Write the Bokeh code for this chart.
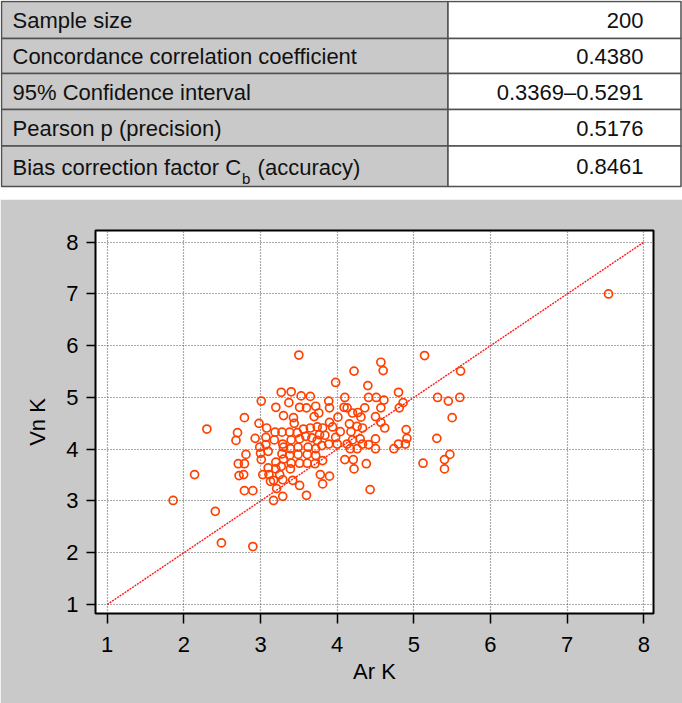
from bokeh.plotting import figure
from bokeh.layouts import column
from bokeh.models import FixedTicker, Range1d
from bokeh.core.properties import value
from bokeh.embed import file_html
from bokeh.resources import INLINE

# ---------------- data ----------------
table_labels = ["Sample size", "Concordance correlation coefficient",
                "95% Confidence interval", "Pearson p (precision)",
                "Bias correction factor C"]
table_values = ["200", "0.4380", "0.3369\u20130.5291", "0.5176", "0.8461"]
label_subscript = "b"
label_suffix = "(accuracy)"

ar_k = [3.50, 4.57, 4.60, 4.22, 3.98, 4.40, 3.27, 3.40, 3.53, 3.65,
        4.80, 4.10, 4.41, 4.51, 4.61, 3.01, 3.37, 3.89, 7.54, 5.14,
        5.61, 5.31, 5.45, 5.60, 4.86, 4.81, 5.50, 4.62, 4.90, 4.91,
        5.30, 4.80, 4.89, 4.74, 5.47, 5.40, 5.12, 5.40,
        3.20, 3.51, 3.60, 3.72, 3.90, 4.09, 4.13, 4.36, 4.57, 2.79,
        3.30, 3.43, 3.44, 3.76, 3.70, 4.01, 4.20, 4.31, 4.27, 4.50,
        4.16, 4.26, 4.57, 2.98, 3.08, 3.94, 3.90, 4.04, 4.33, 4.18,
        2.30, 2.70, 2.68, 2.93, 3.07, 3.19, 3.28, 3.38, 3.48, 3.56,
        3.65, 3.74, 3.81, 3.77, 3.67, 3.59, 3.51, 3.40, 3.29, 3.18,
        3.07, 2.99, 2.81, 2.71, 2.79, 2.72, 2.78, 2.14, 2.79, 2.90,
        1.86, 2.41, 2.49, 2.90, 3.00, 3.01, 3.10, 3.20, 3.03, 3.11,
        3.10, 3.20, 3.13, 3.17, 3.21, 3.17, 3.29, 3.29, 3.25, 3.27,
        3.30, 3.28, 3.30, 3.39, 3.38, 3.40, 3.39, 3.42, 3.51, 3.60,
        3.49, 3.49, 3.51, 3.61, 3.61, 3.62, 3.72, 3.72, 3.71, 3.81,
        3.78, 3.81, 3.90, 3.80, 3.89, 3.74, 3.84, 3.98, 4.00, 4.13,
        4.17, 4.26, 4.20, 4.30, 4.33, 4.41, 4.50, 4.50, 4.10, 4.21,
        4.22, 4.38, 4.43]
vn_k = [5.82, 5.68, 5.52, 5.51, 5.29, 5.23, 5.10, 5.11, 5.03, 5.02,
        5.10, 5.00, 5.00, 5.00, 4.95, 4.93, 4.90, 4.93, 7.00, 5.81,
        5.51, 5.00, 4.93, 5.00, 4.90, 4.80, 4.61, 4.41, 4.38, 4.21,
        4.21, 4.10, 4.10, 4.01, 3.90, 3.80, 3.73, 3.62,
        4.81, 4.81, 4.80, 4.83, 4.80, 4.81, 4.80, 4.80, 4.80, 4.61,
        4.65, 4.61, 4.50, 4.70, 4.63, 4.62, 4.70, 4.62, 4.71, 4.63,
        4.49, 4.44, 4.52, 4.50, 4.41, 4.43, 4.52, 4.34, 4.41, 4.34,
        4.39, 4.32, 4.17, 4.21, 4.23, 4.33, 4.33, 4.33, 4.32, 4.39,
        4.41, 4.43, 4.41, 4.28, 4.22, 4.25, 4.20, 4.18, 4.10, 4.18,
        4.09, 4.04, 3.90, 3.72, 3.72, 3.49, 3.51, 3.51, 3.20, 3.20,
        3.01, 2.80, 2.19, 2.12, 3.92, 3.80, 3.96, 3.75, 3.51, 3.51,
        3.64, 3.62, 3.38, 3.40, 3.24, 3.01, 3.09, 3.41, 3.51, 3.67,
        3.81, 3.91, 4.04, 4.01, 3.88, 3.73, 3.62, 3.40, 3.30, 3.11,
        3.90, 4.04, 3.73, 3.73, 3.90, 4.04, 4.01, 3.88, 3.72, 3.78,
        3.51, 3.33, 3.48, 4.07, 4.10, 4.17, 4.27, 4.23, 4.10, 4.10,
        4.01, 4.01, 4.18, 4.20, 4.10, 4.09, 4.20, 4.01, 3.80, 3.80,
        3.62, 3.72, 3.22]

equality_line = [1, 8]
axis_ticks = [1, 2, 3, 4, 5, 6, 7, 8]

# ---------------- style constants ----------------
FONT = "Liberation Sans"
GREY = "#c9c9c9"

# ---------------- table ----------------
tbl = figure(width=682, height=199, x_range=Range1d(0, 682), y_range=Range1d(199, 0),
             output_backend="svg", toolbar_location=None,
             min_border_left=0, min_border_right=0, min_border_top=0, min_border_bottom=0)
tbl.frame_align = False
tbl.axis.visible = False
tbl.grid.visible = False
tbl.outline_line_color = None
tbl.background_fill_color = "white"
tbl.border_fill_color = "white"

row_edges = [1, 38, 73, 109, 145.5, 186]
col_left, col_mid, col_right = 1, 447.5, 680.5
tops = row_edges[:-1]
bottoms = row_edges[1:]
n = len(table_labels)
tbl.quad(left=[col_left] * n, right=[col_mid] * n, top=tops, bottom=bottoms,
         fill_color=GREY, line_color="#505050", line_width=1.5)
tbl.quad(left=[col_mid] * n, right=[col_right] * n, top=tops, bottom=bottoms,
         fill_color="white", line_color="#505050", line_width=1.5)

F = 22  # table font size (px)
centers = [20.3, 56.0, 91.5, 128.0, 166.7]
val_centers = [20.3, 56.0, 91.5, 128.0, 165.5]
tbl.text(x=[12] * n, y=centers, text=table_labels, text_font=value(FONT),
         text_font_size=f"{F}px", text_color="#111111", text_baseline="middle",
         text_align="left")
tbl.text(x=[643] * n, y=val_centers, text=table_values, text_font=value(FONT),
         text_font_size=f"{F}px", text_color="#111111", text_baseline="middle",
         text_align="right")

# Arial advance widths (per 1000 em) for positioning the subscript
W = {"B": 667, "i": 222, "a": 556, "s": 500, " ": 278, "c": 500, "o": 556, "r": 333,
     "e": 556, "t": 278, "n": 556, "f": 278, "C": 722, "b": 556}
w_main = sum(W[ch] for ch in table_labels[-1]) * F / 1000.0
SUB = 15
x_sub = 12 + w_main + 1.0
x_suffix = x_sub + W["b"] * SUB / 1000.0 + W[" "] * F / 1000.0 + 1.0
tbl.text(x=[x_sub], y=[177.5], text=[label_subscript], text_font=value(FONT),
         text_font_size=f"{SUB}px", text_color="#111111", text_baseline="middle",
         text_align="left")
tbl.text(x=[x_suffix], y=[166.7], text=[label_suffix], text_font=value(FONT),
         text_font_size=f"{F}px", text_color="#111111", text_baseline="middle",
         text_align="left")

# ---------------- scatter ----------------
p = figure(width=682, height=504, x_range=Range1d(0.8474, 8.1265),
           y_range=Range1d(0.8261, 8.226), output_backend="svg", toolbar_location=None,
           min_border_left=95, min_border_right=29, min_border_top=31, min_border_bottom=90)
p.frame_align = False
p.background_fill_color = "white"
p.border_fill_color = GREY
p.outline_line_color = "black"
p.outline_line_width = 2
p.styles = {"outline": "1px solid #3a3a3a", "outline-offset": "-2px"}

ticker = FixedTicker(ticks=axis_ticks)
for ax in (p.xaxis[0], p.yaxis[0]):
    ax.ticker = ticker
    ax.axis_line_color = None
    ax.major_tick_in = 0
    ax.minor_tick_out = 0
    ax.minor_tick_in = 0
    ax.major_tick_line_color = "black"
    ax.major_tick_line_width = 1.5
    ax.major_label_text_font = FONT
    ax.major_label_text_font_size = "22px"
    ax.major_label_text_color = "black"
    ax.axis_label_text_font = FONT
    ax.axis_label_text_font_size = "22px"
    ax.axis_label_text_font_style = "normal"
    ax.axis_label_text_color = "black"

p.xaxis.axis_label = "Ar K"
p.yaxis.axis_label = "Vn K"
p.xaxis.major_tick_out = 10
p.yaxis.major_tick_out = 9
p.xaxis.major_label_standoff = 13
p.yaxis.major_label_standoff = 8
p.xaxis.axis_label_standoff = 4
p.yaxis.axis_label_standoff = 13

for g in (p.xgrid[0], p.ygrid[0]):
    g.ticker = ticker
    g.grid_line_color = "#555555"
    g.grid_line_dash = "1 2"
    g.grid_line_width = 1.2

p.line(equality_line, equality_line, line_color="#ff1a1a", line_width=1.4, line_dash="2 1")
p.scatter(ar_k, vn_k, marker="circle", size=8, fill_color=None,
          line_color="#ff4000", line_width=1.7)

layout = column(tbl, p, spacing=0)
open("out.html", "w").write(file_html(layout, INLINE))
